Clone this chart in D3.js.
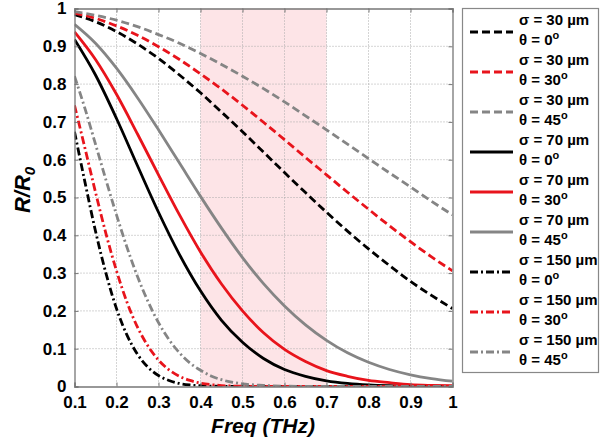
<!DOCTYPE html>
<html><head><meta charset="utf-8">
<script src="https://cdn.jsdelivr.net/npm/d3@7/dist/d3.min.js"></script>
<style>body{margin:0;background:#fff;}svg{display:block;font-family:"Liberation Sans",Arial,sans-serif;}</style>
</head><body>
<svg id="c" width="600" height="444"></svg>
<script>
// ---- data ----
const freqCoarse = [0.1,0.15,0.2,0.25,0.3,0.35,0.4,0.45,0.5,0.55,0.6,0.65,0.7,0.75,0.8,0.85,0.9,0.95,1.0];
const freqFine = [0.1,0.125,0.15,0.175,0.2,0.225,0.25,0.275,0.3,0.325,0.35,0.375,0.4,0.425,0.45,0.5,0.55,0.6,0.7,0.8,0.9,1.0];

const s30t0  = [0.984,0.965,0.939,0.906,0.868,0.824,0.777,0.726,0.674,0.620,0.566,0.513,0.461,0.411,0.364,0.320,0.278,0.241,0.206];
const s30t30 = [0.988,0.974,0.954,0.929,0.899,0.865,0.827,0.787,0.744,0.699,0.653,0.606,0.560,0.514,0.469,0.425,0.383,0.343,0.306];
const s30t45 = [0.992,0.982,0.969,0.952,0.931,0.908,0.881,0.852,0.821,0.788,0.753,0.716,0.679,0.641,0.603,0.565,0.528,0.490,0.454];
const s70t0  = [0.918,0.824,0.709,0.584,0.461,0.349,0.253,0.175,0.117,0.074,0.045,0.027,0.015,0.008,0.004,0.002,0.001,0.0004,0.0002];
const s70t30 = [0.938,0.865,0.773,0.668,0.560,0.454,0.356,0.271,0.200,0.142,0.098,0.066,0.042,0.027,0.016,0.010,0.005,0.003,0.002];
const s70t45 = [0.958,0.908,0.842,0.764,0.679,0.591,0.503,0.419,0.341,0.272,0.213,0.163,0.122,0.089,0.064,0.045,0.031,0.021,0.014];
const s150t0  = [0.674,0.540,0.411,0.299,0.206,0.136,0.085,0.051,0.029,0.016,0.008,0.004,0.002,0.001,0.0003,0.0001,0,0,0,0,0,0];
const s150t30 = [0.744,0.630,0.514,0.404,0.306,0.223,0.157,0.107,0.070,0.044,0.027,0.016,0.009,0.005,0.0025,0.0006,0.0001,0,0,0,0,0];
const s150t45 = [0.821,0.735,0.641,0.546,0.454,0.368,0.291,0.225,0.169,0.124,0.089,0.062,0.043,0.028,0.018,0.007,0.003,0.001,0.0001,0,0,0];

const sigmaLabels = ["σ = 30 µm","σ = 30 µm","σ = 30 µm","σ = 70 µm","σ = 70 µm","σ = 70 µm","σ = 150 µm","σ = 150 µm","σ = 150 µm"];
const thetaLabels = ["0","30","45","0","30","45","0","30","45"];
const xTicks = [0.1,0.2,0.3,0.4,0.5,0.6,0.7,0.8,0.9,1];
const yTicks = [0,0.1,0.2,0.3,0.4,0.5,0.6,0.7,0.8,0.9,1];
const band = [0.4,0.7];

// ---- styles ----
const BLACK="#000000", RED="#e8141c", GRAY="#858585";
const DASH="8,4", DASHDOT="8,3,2,3";
const series = [
  {x:freqCoarse,y:s30t0,c:BLACK,d:DASH},
  {x:freqCoarse,y:s30t30,c:RED,d:DASH},
  {x:freqCoarse,y:s30t45,c:GRAY,d:DASH},
  {x:freqCoarse,y:s70t0,c:BLACK,d:null},
  {x:freqCoarse,y:s70t30,c:RED,d:null},
  {x:freqCoarse,y:s70t45,c:GRAY,d:null},
  {x:freqFine,y:s150t0,c:BLACK,d:DASHDOT},
  {x:freqFine,y:s150t30,c:RED,d:DASHDOT},
  {x:freqFine,y:s150t45,c:GRAY,d:DASHDOT}
];

const svg = d3.select("#c");
const L=74.5, R=452.5, T=8.5, B=386.5;
const x = d3.scaleLinear().domain([0.1,1]).range([L,R]);
const y = d3.scaleLinear().domain([0,1]).range([B,T]);

// band
svg.append("rect").attr("x",x(band[0])).attr("y",T).attr("width",x(band[1])-x(band[0])).attr("height",B-T).attr("fill","#fde4e7");

// grid
const g = svg.append("g");
g.selectAll(".gx").data(xTicks.slice(1,-1)).enter().append("line")
  .attr("x1",d=>x(d)).attr("x2",d=>x(d)).attr("y1",T).attr("y2",B)
  .attr("stroke","#aaaaaa").attr("stroke-width",1).attr("stroke-dasharray","1,2");
g.selectAll(".gy").data(yTicks.slice(1,-1)).enter().append("line")
  .attr("y1",d=>y(d)).attr("y2",d=>y(d)).attr("x1",L).attr("x2",R)
  .attr("stroke","#aaaaaa").attr("stroke-width",1).attr("stroke-dasharray","1,2");

// lines
svg.append("clipPath").attr("id","pc").append("rect").attr("x",L).attr("y",T-2).attr("width",R-L).attr("height",B-T+2);
const lg = svg.append("g").attr("clip-path","url(#pc)");
series.forEach(s=>{
  const pts = s.x.map((xv,i)=>[xv,s.y[i]]);
  const line = d3.line().x(d=>x(d[0])).y(d=>y(d[1])).curve(d3.curveMonotoneX);
  lg.append("path").attr("d",line(pts)).attr("fill","none").attr("stroke",s.c)
    .attr("stroke-width",2.8).attr("stroke-dasharray",s.d);
});

// axes (MATLAB-like, ticks inside)
const fmt = d=> d===0?"0":(d===1?"1":d3.format(".1f")(d));
const xa = svg.append("g").attr("transform",`translate(0,${B})`)
  .call(d3.axisBottom(x).tickValues(xTicks).tickSize(-4).tickPadding(9).tickFormat(fmt));
const xa2 = svg.append("g").attr("transform",`translate(0,${T})`)
  .call(d3.axisTop(x).tickValues(xTicks).tickSize(-4).tickFormat(""));
const ya = svg.append("g").attr("transform",`translate(${L},0)`)
  .call(d3.axisLeft(y).tickValues(yTicks).tickSize(-4).tickPadding(8).tickFormat(fmt));
const ya2 = svg.append("g").attr("transform",`translate(${R},0)`)
  .call(d3.axisRight(y).tickValues(yTicks).tickSize(-4).tickFormat(""));
[xa,xa2,ya,ya2].forEach(a=>{
  a.select(".domain").attr("stroke","#777").attr("stroke-width",1.3);
  a.selectAll(".tick line").attr("stroke","#777");
  a.selectAll("text").attr("font-size",17).attr("font-weight","bold").attr("fill","#000")
    .attr("font-family","'Liberation Sans',Arial,sans-serif");
});
xa.selectAll("text").attr("dy","0.72em");

// axis titles
svg.append("text").attr("x",263).attr("y",433).attr("text-anchor","middle")
  .attr("font-size",21).attr("font-weight","bold").attr("font-style","italic").text("Freq (THz)");
const yt = svg.append("text").attr("transform","translate(30,190) rotate(-90)").attr("text-anchor","middle")
  .attr("font-size",22).attr("font-weight","bold").attr("font-style","italic");
yt.append("tspan").text("R/R");
yt.append("tspan").attr("font-size",15).attr("dy",5).text("0");

// legend
const lx=462.5, ly=8.5, lw=136, lh=364;
svg.append("rect").attr("x",lx).attr("y",ly).attr("width",lw).attr("height",lh)
  .attr("fill","#fff").attr("stroke","#888").attr("stroke-width",1.2);
series.forEach((s,i)=>{
  const cy = 32 + i*40;
  svg.append("line").attr("x1",470).attr("x2",513).attr("y1",cy).attr("y2",cy)
    .attr("stroke",s.c).attr("stroke-width",2.8).attr("stroke-dasharray",s.d);
  svg.append("text").attr("x",519).attr("y",cy-7).attr("font-size",15).attr("font-weight","bold").text(sigmaLabels[i]);
  const t = svg.append("text").attr("x",519).attr("y",cy+13).attr("font-size",15).attr("font-weight","bold");
  t.append("tspan").text("θ = "+thetaLabels[i]);
  t.append("tspan").attr("font-size",11).attr("dy",-6).text("o");
});
</script>
</body></html>
